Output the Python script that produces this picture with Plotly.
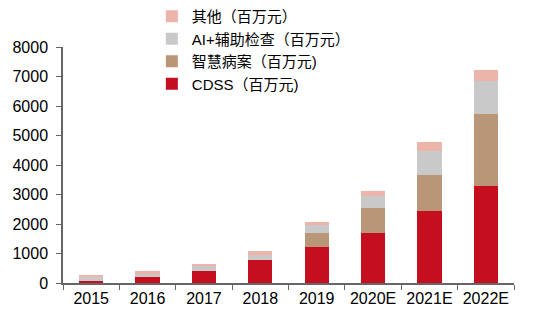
import plotly.graph_objects as go

years = ["2015", "2016", "2017", "2018", "2019", "2020E", "2021E", "2022E"]
cdss = [80, 205, 415, 790, 1210, 1680, 2440, 3290]
smart_records = [0, 0, 0, 0, 490, 850, 1210, 2450]
ai_exam = [125, 125, 160, 160, 250, 430, 810, 1110]
others = [65, 65, 70, 135, 130, 170, 310, 370]

series = [
    ("CDSS（百万元)", cdss, "#C50F1F"),
    ("智慧病案（百万元)", smart_records, "#B99677"),
    ("AI+辅助检查（百万元）", ai_exam, "#C9C9C9"),
    ("其他（百万元）", others, "#ECB4AA"),
]

fig = go.Figure()
for name, vals, color in series:
    fig.add_trace(go.Bar(
        x=years, y=vals, name=name,
        marker=dict(color=color, line=dict(width=0)),
    ))

axis_color = "#666666"
fig.update_layout(
    width=535, height=322,
    margin=dict(l=63, r=21, t=47, b=39, autoexpand=False),
    barmode="stack",
    bargap=0.57,
    plot_bgcolor="white",
    paper_bgcolor="white",
    font=dict(family="Liberation Sans, Arial, Noto Sans CJK SC", size=16, color="#000000"),
    legend=dict(
        x=0.197, y=1.199, xanchor="left", yanchor="top",
        traceorder="reversed",
        font=dict(family="Liberation Sans, Noto Sans CJK SC", size=15),
        bgcolor="rgba(0,0,0,0)",
        itemwidth=30,
    ),
    xaxis=dict(
        type="category",
        showline=True, linecolor=axis_color, linewidth=1.5,
        ticks="outside", tickson="boundaries", ticklen=5, tickcolor=axis_color,
        showgrid=False, tickfont=dict(size=16),
    ),
    yaxis=dict(
        range=[0, 8000], dtick=1000,
        showline=True, linecolor=axis_color, linewidth=1.5,
        ticks="outside", ticklen=5, tickcolor=axis_color,
        showgrid=False, zeroline=False, tickfont=dict(size=16),
        tickformat="d", ticklabelstandoff=5,
    ),
)

fig.write_html("out.html")
